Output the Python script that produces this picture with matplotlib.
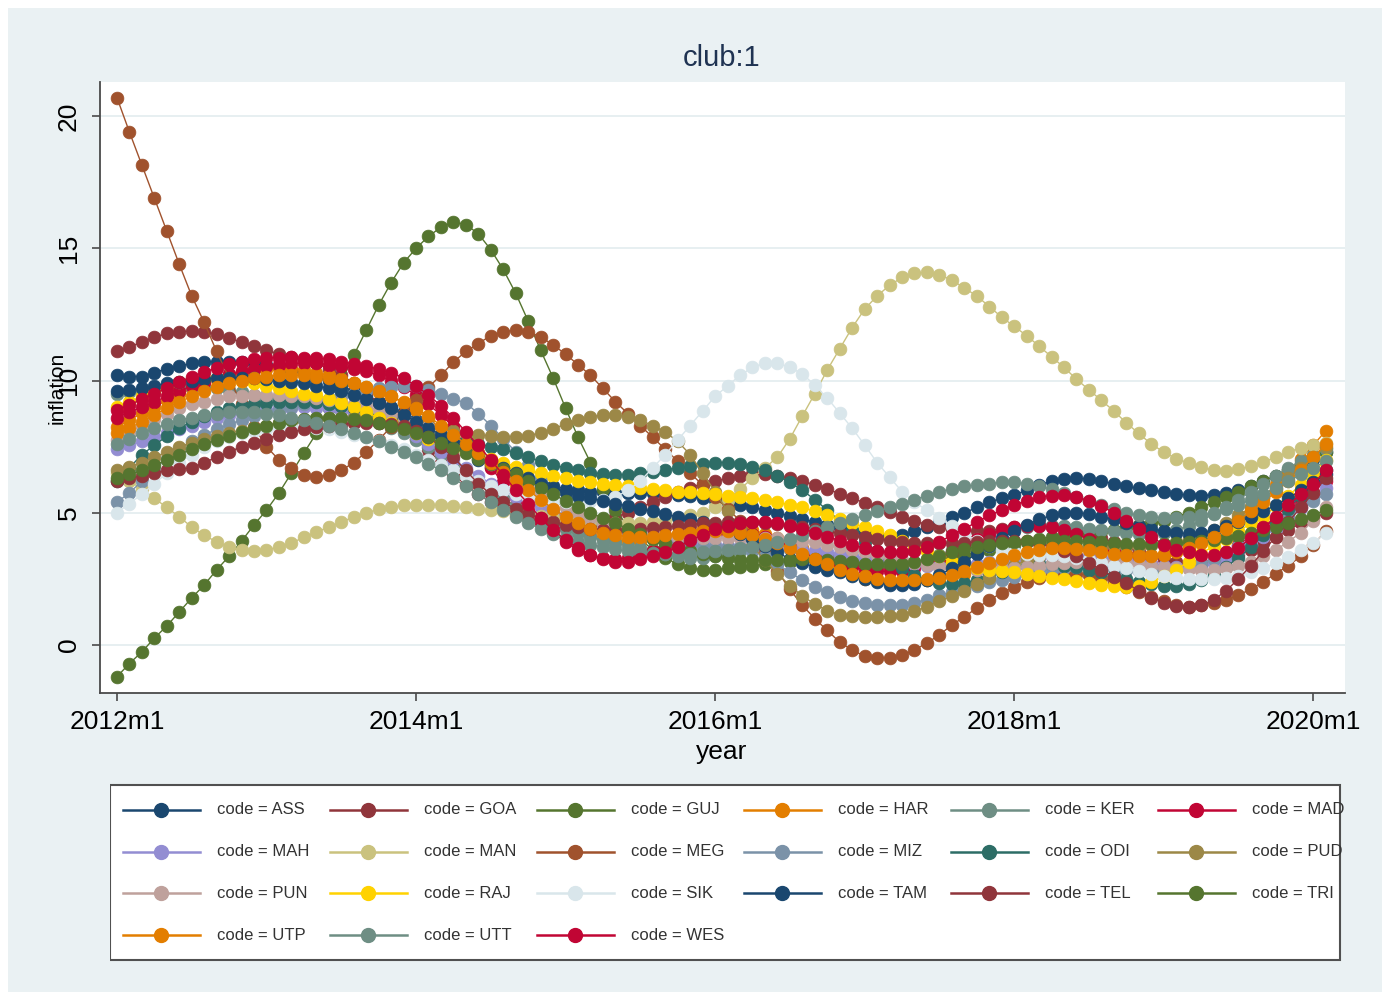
import numpy as np
import matplotlib
matplotlib.use("Agg")
import matplotlib.pyplot as plt
from matplotlib.patches import Rectangle

plt.rcParams['font.family'] = ['Liberation Sans', 'DejaVu Sans']

# monthly smoothed inflation, 2012m1 .. 2020m2 (98 months), one list per state code
ass = [10.2, 10.15, 10.15, 10.3, 10.45, 10.55, 10.65, 10.7, 10.72, 10.72, 10.7, 10.65,
       10.6, 10.5, 10.4, 10.3, 10.15, 10.0, 9.8, 9.6, 9.4, 9.2, 9.0, 8.8,
       8.5, 8.2, 7.9, 7.6, 7.3, 7.0, 6.75, 6.55, 6.35, 6.2, 6.1, 6.0,
       5.9, 5.85, 5.8, 5.78, 5.76, 5.75, 5.75, 5.74, 5.72, 5.68, 5.62, 5.55,
       5.5, 5.4, 5.3, 5.2, 5.1, 5.0, 4.88, 4.76, 4.65, 4.55, 4.45, 4.35,
       4.25, 4.15, 4.1, 4.15, 4.3, 4.46, 4.65, 4.84, 5.0, 5.2, 5.4, 5.55,
       5.67, 5.85, 6.05, 6.2, 6.27, 6.3, 6.28, 6.2, 6.1, 6.0, 5.92, 5.86,
       5.78, 5.7, 5.67, 5.65, 5.67, 5.75, 5.86, 6.0, 6.2, 6.4, 6.6, 6.85,
       7.05, 7.3]
goa = [11.1, 11.27, 11.46, 11.64, 11.78, 11.85, 11.87, 11.85, 11.75, 11.6, 11.45, 11.3,
       11.15, 11.0, 10.9, 10.8, 10.65, 10.45, 10.2, 9.9, 9.55, 9.15, 8.7, 8.25,
       7.8, 7.35, 6.9, 6.45, 6.05, 5.7, 5.4, 5.15, 4.95, 4.8, 4.65, 4.55,
       4.45, 4.45, 4.55, 4.7, 4.84, 5.0, 5.2, 5.4, 5.6, 5.8, 5.95, 6.1,
       6.2, 6.3, 6.38, 6.45, 6.45, 6.4, 6.3, 6.2, 6.05, 5.9, 5.72, 5.55,
       5.38, 5.2, 5.02, 4.85, 4.7, 4.55, 4.45, 4.37, 4.32, 4.3, 4.32, 4.38,
       4.45, 4.5, 4.52, 4.5, 4.45, 4.35, 4.2, 4.05, 3.88, 3.7, 3.52, 3.38,
       3.25, 3.15, 3.1, 3.1, 3.15, 3.25, 3.4, 3.6, 3.85, 4.1, 4.35, 4.6,
       4.8, 5.0]
guj = [-1.2, -0.7, -0.26, 0.26, 0.72, 1.25, 1.78, 2.27, 2.84, 3.36, 3.93, 4.54,
       5.1, 5.75, 6.5, 7.26, 8.0, 8.95, 9.95, 10.95, 11.9, 12.85, 13.7, 14.45,
       15.0, 15.45, 15.8, 16.0, 15.9, 15.55, 14.95, 14.2, 13.3, 12.25, 11.15, 10.1,
       8.96, 7.86, 6.9, 5.9, 5.1, 4.5, 4.0, 3.6, 3.3, 3.05, 2.9, 2.85,
       2.85, 2.9, 2.95, 3.0, 3.05, 3.1, 3.15, 3.2, 3.2, 3.2, 3.15, 3.1,
       3.05, 3.0, 3.0, 3.0, 3.05, 3.1, 3.2, 3.3, 3.4, 3.5, 3.6, 3.7,
       3.8, 3.9, 4.0, 4.1, 4.15, 4.2, 4.25, 4.3, 4.35, 4.45, 4.55, 4.6,
       4.7, 4.85, 5.0, 5.2, 5.4, 5.6, 5.8, 6.0, 6.2, 6.4, 6.6, 6.85,
       7.1, 7.3]
har = [8.25, 8.5, 8.77, 9.0, 9.25, 9.5, 9.7, 9.9, 10.05, 10.2, 10.3, 10.4,
       10.45, 10.47, 10.45, 10.4, 10.3, 10.2, 10.05, 9.9, 9.75, 9.55, 9.4, 9.15,
       8.9, 8.55, 8.2, 7.85, 7.5, 7.15, 6.8, 6.45, 6.1, 5.75, 5.35, 4.95,
       4.6, 4.35, 4.15, 4.05, 3.97, 3.93, 3.95, 4.0, 4.1, 4.2, 4.3, 4.4,
       4.46, 4.5, 4.45, 4.35, 4.2, 4.05, 3.9, 3.65, 3.4, 3.15, 2.85, 2.65,
       2.5, 2.45, 2.4, 2.38, 2.4, 2.45, 2.5, 2.6, 2.7, 2.85, 3.0, 3.1,
       3.25, 3.4, 3.55, 3.65, 3.7, 3.68, 3.65, 3.58, 3.5, 3.45, 3.4, 3.4,
       3.45, 3.55, 3.7, 3.9, 4.15, 4.45, 4.8, 5.2, 5.6, 6.05, 6.55, 7.05,
       7.55, 8.1]
ker = [9.5, 9.55, 9.6, 9.65, 9.7, 9.75, 9.75, 9.75, 9.7, 9.65, 9.55, 9.45,
       9.35, 9.3, 9.25, 9.2, 9.1, 9.0, 8.9, 8.75, 8.6, 8.4, 8.2, 8.0,
       7.75, 7.5, 7.2, 6.9, 6.55, 6.2, 5.85, 5.55, 5.25, 5.0, 4.8, 4.6,
       4.4, 4.25, 4.1, 3.95, 3.85, 3.75, 3.65, 3.55, 3.45, 3.35, 3.3, 3.3,
       3.35, 3.45, 3.55, 3.65, 3.7, 3.68, 3.62, 3.55, 3.48, 3.42, 3.35, 3.3,
       3.2, 3.15, 3.1, 3.1, 3.15, 3.25, 3.4, 3.6, 3.8, 4.0, 4.15, 4.3,
       4.4, 4.45, 4.5, 4.5, 4.5, 4.45, 4.4, 4.35, 4.3, 4.25, 4.2, 4.2,
       4.25, 4.35, 4.5, 4.7, 4.95, 5.2, 5.5, 5.8, 6.1, 6.4, 6.7, 6.95,
       7.2, 7.4]
mad = [8.6, 8.8, 9.0, 9.2, 9.4, 9.6, 9.8, 9.95, 10.1, 10.25, 10.35, 10.45,
       10.55, 10.6, 10.65, 10.65, 10.65, 10.6, 10.55, 10.45, 10.35, 10.2, 10.0, 9.75,
       9.45, 9.1, 8.7, 8.25, 7.75, 7.25, 6.7, 6.15, 5.6, 5.1, 4.65, 4.25,
       3.9, 3.6, 3.4, 3.3, 3.25, 3.3, 3.4, 3.55, 3.7, 3.85, 4.0, 4.1,
       4.2, 4.25, 4.25, 4.2, 4.1, 3.95, 3.75, 3.55, 3.35, 3.2, 3.05, 2.95,
       2.85, 2.8, 2.78, 2.8, 2.9, 3.05, 3.25, 3.5, 3.75, 4.0, 4.2, 4.35,
       4.45, 4.5, 4.5, 4.45, 4.35, 4.2, 4.0, 3.8, 3.6, 3.4, 3.2, 3.05,
       2.95, 2.9, 2.95, 3.05, 3.25, 3.5, 3.8, 4.1, 4.45, 4.75, 5.1, 5.45,
       5.8, 6.2]
mah = [7.4, 7.55, 7.7, 7.85, 8.0, 8.15, 8.3, 8.45, 8.57, 8.68, 8.78, 8.85,
       8.9, 8.95, 8.98, 9.0, 8.98, 8.95, 8.9, 8.8, 8.7, 8.55, 8.35, 8.15,
       7.9, 7.6, 7.3, 7.0, 6.7, 6.4, 6.1, 5.85, 5.6, 5.4, 5.2, 5.05,
       4.9, 4.8, 4.7, 4.6, 4.5, 4.4, 4.3, 4.2, 4.1, 4.0, 3.9, 3.85,
       3.8, 3.75, 3.72, 3.7, 3.68, 3.66, 3.65, 3.6, 3.55, 3.5, 3.45, 3.38,
       3.3, 3.22, 3.15, 3.1, 3.05, 3.0, 3.0, 3.02, 3.05, 3.08, 3.12, 3.16,
       3.2, 3.25, 3.3, 3.35, 3.37, 3.37, 3.35, 3.3, 3.25, 3.2, 3.12, 3.05,
       3.0, 2.95, 2.95, 3.0, 3.1, 3.3, 3.55, 3.8, 4.1, 4.4, 4.8, 5.18,
       5.56, 5.93]
man = [6.5, 6.2, 5.9, 5.55, 5.2, 4.85, 4.46, 4.15, 3.9, 3.7, 3.6, 3.55,
       3.6, 3.7, 3.86, 4.07, 4.27, 4.46, 4.65, 4.84, 5.0, 5.13, 5.2, 5.28,
       5.3, 5.3, 5.28, 5.25, 5.2, 5.15, 5.1, 5.05, 5.0, 4.95, 4.88, 4.8,
       4.75, 4.7, 4.65, 4.6, 4.6, 4.6, 4.6, 4.65, 4.7, 4.8, 4.9, 5.0,
       5.2, 5.5, 5.9, 6.3, 6.7, 7.1, 7.8, 8.66, 9.5, 10.4, 11.2, 12.0,
       12.7, 13.2, 13.6, 13.9, 14.05, 14.1, 14.0, 13.8, 13.5, 13.2, 12.8, 12.4,
       12.05, 11.7, 11.3, 10.9, 10.5, 10.05, 9.65, 9.25, 8.85, 8.4, 8.0, 7.6,
       7.3, 7.05, 6.88, 6.73, 6.6, 6.58, 6.65, 6.77, 6.92, 7.1, 7.3, 7.45,
       7.55, 7.65]
meg = [20.7, 19.4, 18.15, 16.9, 15.65, 14.4, 13.2, 12.2, 11.1, 10.1, 9.1, 8.25,
       7.5, 7.0, 6.7, 6.43, 6.35, 6.43, 6.6, 6.9, 7.3, 7.75, 8.25, 8.75,
       9.25, 9.75, 10.2, 10.7, 11.1, 11.4, 11.7, 11.85, 11.9, 11.85, 11.65, 11.35,
       11.0, 10.6, 10.2, 9.7, 9.2, 8.75, 8.3, 7.85, 7.4, 6.95, 6.5, 6.05,
       5.6, 5.15, 4.7, 4.15, 3.5, 2.8, 2.1, 1.5, 1.0, 0.55, 0.11, -0.19,
       -0.42, -0.49, -0.49, -0.38, -0.19, 0.08, 0.38, 0.76, 1.06, 1.4, 1.7, 1.97,
       2.2, 2.4, 2.55, 2.65, 2.7, 2.7, 2.65, 2.55, 2.4, 2.2, 2.0, 1.8,
       1.65, 1.5, 1.45, 1.5, 1.6, 1.7, 1.9, 2.1, 2.4, 2.7, 3.0, 3.35,
       3.8, 4.3]
miz = [5.4, 5.75, 6.2, 6.65, 7.05, 7.4, 7.7, 7.95, 8.15, 8.35, 8.5, 8.65,
       8.8, 8.9, 9.0, 9.1, 9.2, 9.3, 9.4, 9.5, 9.6, 9.7, 9.75, 9.78,
       9.78, 9.65, 9.5, 9.3, 9.15, 8.75, 8.3, 7.8, 7.3, 6.8, 6.3, 5.9,
       5.5, 5.15, 4.85, 4.6, 4.4, 4.25, 4.1, 4.0, 3.9, 3.8, 3.75, 3.7,
       3.7, 3.7, 3.65, 3.55, 3.35, 3.05, 2.75, 2.45, 2.2, 2.0, 1.82, 1.68,
       1.58, 1.52, 1.5, 1.52, 1.6, 1.72, 1.88, 2.0, 2.12, 2.25, 2.37, 2.47,
       2.58, 2.68, 2.78, 2.85, 2.9, 2.95, 2.95, 2.95, 2.9, 2.85, 2.8, 2.78,
       2.78, 2.82, 2.9, 3.05, 3.25, 3.5, 3.75, 4.0, 4.3, 4.6, 4.9, 5.2,
       5.45, 5.7]
odi = [6.2, 6.7, 7.2, 7.55, 7.9, 8.2, 8.45, 8.65, 8.8, 8.95, 9.05, 9.12,
       9.15, 9.18, 9.2, 9.2, 9.18, 9.12, 9.05, 8.95, 8.8, 8.65, 8.5, 8.35,
       8.2, 8.05, 7.92, 7.8, 7.7, 7.6, 7.5, 7.4, 7.25, 7.1, 6.95, 6.8,
       6.7, 6.6, 6.52, 6.47, 6.44, 6.44, 6.5, 6.55, 6.62, 6.7, 6.78, 6.85,
       6.9, 6.9, 6.85, 6.75, 6.6, 6.4, 6.15, 5.85, 5.5, 5.1, 4.7, 4.3,
       3.9, 3.55, 3.2, 2.9, 2.65, 2.45, 2.35, 2.3, 2.35, 2.45, 2.6, 2.75,
       2.9, 3.0, 3.05, 3.05, 3.0, 2.95, 2.85, 2.75, 2.6, 2.5, 2.4, 2.3,
       2.25, 2.25, 2.3, 2.45, 2.65, 2.95, 3.3, 3.7, 4.15, 4.65, 5.15, 5.65,
       6.15, 6.6]
pud = [6.6, 6.75, 6.9, 7.1, 7.3, 7.5, 7.65, 7.8, 7.9, 8.0, 8.1, 8.2,
       8.3, 8.4, 8.45, 8.5, 8.55, 8.6, 8.6, 8.6, 8.55, 8.5, 8.45, 8.4,
       8.35, 8.3, 8.2, 8.1, 8.0, 7.95, 7.9, 7.88, 7.88, 7.92, 8.02, 8.18,
       8.35, 8.5, 8.62, 8.7, 8.7, 8.62, 8.5, 8.3, 8.05, 7.7, 7.2, 6.5,
       5.8, 5.05, 4.35, 3.75, 3.2, 2.7, 2.25, 1.85, 1.55, 1.3, 1.15, 1.08,
       1.06, 1.06, 1.08, 1.15, 1.28, 1.45, 1.65, 1.85, 2.05, 2.3, 2.55, 2.8,
       3.0, 3.2, 3.35, 3.5, 3.6, 3.68, 3.72, 3.75, 3.75, 3.75, 3.75, 3.78,
       3.82, 3.9, 4.0, 4.15, 4.35, 4.6, 4.9, 5.2, 5.55, 5.9, 6.3, 6.7,
       7.1, 7.5]
pun = [7.75, 8.05, 8.3, 8.55, 8.75, 8.95, 9.1, 9.2, 9.3, 9.4, 9.43, 9.45,
       9.45, 9.45, 9.42, 9.4, 9.35, 9.28, 9.2, 9.1, 9.0, 8.9, 8.75, 8.6,
       8.45, 8.25, 8.0, 7.75, 7.45, 7.15, 6.85, 6.55, 6.25, 5.95, 5.7, 5.45,
       5.2, 5.0, 4.8, 4.6, 4.45, 4.35, 4.25, 4.18, 4.12, 4.08, 4.06, 4.05,
       4.05, 4.05, 4.05, 4.05, 4.05, 4.03, 4.0, 3.95, 3.88, 3.8, 3.7, 3.6,
       3.5, 3.4, 3.3, 3.2, 3.1, 3.02, 2.95, 2.9, 2.87, 2.85, 2.85, 2.87,
       2.9, 2.95, 3.0, 3.05, 3.1, 3.13, 3.15, 3.15, 3.12, 3.1, 3.05, 3.0,
       2.95, 2.9, 2.87, 2.85, 2.85, 2.9, 3.0, 3.15, 3.35, 3.6, 3.9, 4.25,
       4.7, 5.2]
raj = [9.0, 9.2, 9.4, 9.6, 9.8, 9.95, 10.05, 10.1, 10.1, 10.05, 10.0, 9.9,
       9.8, 9.7, 9.6, 9.5, 9.45, 9.3, 9.15, 9.0, 8.8, 8.6, 8.4, 8.2,
       8.0, 7.8, 7.6, 7.45, 7.3, 7.15, 7.05, 6.9, 6.75, 6.62, 6.5, 6.4,
       6.3, 6.22, 6.15, 6.1, 6.05, 6.0, 5.95, 5.9, 5.85, 5.8, 5.78, 5.75,
       5.7, 5.65, 5.6, 5.55, 5.5, 5.4, 5.3, 5.2, 5.05, 4.9, 4.75, 4.6,
       4.45, 4.3, 4.15, 3.95, 3.75, 3.55, 3.35, 3.15, 3.0, 2.9, 2.85, 2.8,
       2.75, 2.7, 2.62, 2.55, 2.48, 2.42, 2.35, 2.28, 2.22, 2.2, 2.25, 2.4,
       2.6, 2.85, 3.15, 3.45, 3.75, 4.0, 4.3, 4.6, 4.85, 5.25, 5.65, 6.05,
       6.5, 7.0]
sik = [5.0, 5.35, 5.7, 6.1, 6.5, 6.9, 7.2, 7.5, 7.7, 7.85, 8.0, 8.1,
       8.15, 8.2, 8.25, 8.25, 8.2, 8.15, 8.05, 7.95, 7.85, 7.7, 7.55, 7.4,
       7.2, 7.0, 6.8, 6.6, 6.4, 6.2, 6.0, 5.85, 5.7, 5.6, 5.5, 5.45,
       5.4, 5.4, 5.45, 5.5, 5.6, 5.85, 6.2, 6.7, 7.2, 7.75, 8.3, 8.85,
       9.4, 9.8, 10.2, 10.5, 10.66, 10.66, 10.5, 10.25, 9.83, 9.34, 8.77, 8.2,
       7.56, 6.9, 6.35, 5.8, 5.4, 5.1, 4.8, 4.5, 4.2, 3.95, 3.75, 3.6,
       3.5, 3.45, 3.4, 3.4, 3.35, 3.3, 3.2, 3.1, 3.0, 2.9, 2.8, 2.7,
       2.6, 2.55, 2.5, 2.48, 2.5, 2.55, 2.62, 2.75, 2.9, 3.1, 3.33, 3.6,
       3.86, 4.23]
tam = [9.6, 9.65, 9.7, 9.8, 9.9, 9.95, 10.0, 10.05, 10.1, 10.1, 10.1, 10.08,
       10.05, 10.0, 9.95, 9.9, 9.8, 9.7, 9.6, 9.45, 9.3, 9.15, 8.95, 8.7,
       8.45, 8.2, 7.95, 7.7, 7.45, 7.2, 6.95, 6.7, 6.5, 6.3, 6.1, 5.95,
       5.8, 5.65, 5.55, 5.45, 5.35, 5.25, 5.15, 5.05, 4.95, 4.85, 4.75, 4.65,
       4.55, 4.4, 4.2, 4.0, 3.75, 3.5, 3.25, 3.1, 2.95, 2.85, 2.75, 2.62,
       2.5, 2.38, 2.28, 2.27, 2.3, 2.45, 2.65, 2.9, 3.15, 3.45, 3.75, 4.05,
       4.3, 4.55, 4.75, 4.9, 5.0, 5.0, 4.95, 4.85, 4.75, 4.6, 4.5, 4.4,
       4.3, 4.25, 4.2, 4.25, 4.35, 4.5, 4.65, 4.85, 5.05, 5.3, 5.55, 5.85,
       6.15, 6.45]
tel = [6.2, 6.3, 6.4, 6.5, 6.6, 6.65, 6.7, 6.9, 7.1, 7.3, 7.5, 7.65,
       7.8, 7.95, 8.05, 8.15, 8.25, 8.3, 8.35, 8.38, 8.4, 8.4, 8.35, 8.3,
       8.1, 7.85, 7.5, 7.1, 6.6, 6.1, 5.7, 5.4, 5.15, 4.95, 4.8, 4.65,
       4.55, 4.45, 4.4, 4.35, 4.35, 4.35, 4.38, 4.42, 4.45, 4.5, 4.55, 4.6,
       4.62, 4.65, 4.65, 4.65, 4.62, 4.58, 4.52, 4.45, 4.38, 4.3, 4.22, 4.15,
       4.08, 4.0, 3.95, 3.9, 3.87, 3.85, 3.85, 3.85, 3.87, 3.9, 3.92, 3.95,
       3.95, 3.92, 3.85, 3.72, 3.55, 3.35, 3.1, 2.84, 2.58, 2.34, 2.05, 1.78,
       1.6, 1.48, 1.44, 1.5, 1.7, 2.05, 2.5, 3.0, 3.55, 4.1, 4.65, 5.2,
       5.75, 6.3]
tri = [6.3, 6.45, 6.6, 6.8, 7.0, 7.2, 7.4, 7.6, 7.75, 7.9, 8.05, 8.2,
       8.3, 8.4, 8.5, 8.55, 8.6, 8.6, 8.6, 8.55, 8.5, 8.4, 8.3, 8.15,
       8.0, 7.85, 7.65, 7.45, 7.25, 7.05, 6.85, 6.65, 6.45, 6.2, 5.95, 5.7,
       5.45, 5.2, 5.0, 4.8, 4.6, 4.4, 4.2, 4.0, 3.85, 3.7, 3.55, 3.45,
       3.35, 3.28, 3.22, 3.2, 3.2, 3.2, 3.22, 3.25, 3.25, 3.22, 3.18, 3.12,
       3.08, 3.05, 3.05, 3.08, 3.15, 3.25, 3.38, 3.5, 3.62, 3.72, 3.8, 3.85,
       3.9, 3.92, 3.95, 3.95, 3.95, 3.93, 3.9, 3.88, 3.85, 3.83, 3.82, 3.82,
       3.83, 3.85, 3.88, 3.92, 3.97, 4.05, 4.12, 4.22, 4.33, 4.46, 4.6, 4.75,
       4.92, 5.1]
utp = [8.0, 8.2, 8.45, 8.7, 8.95, 9.2, 9.4, 9.6, 9.75, 9.9, 10.0, 10.1,
       10.15, 10.2, 10.2, 10.2, 10.15, 10.1, 10.0, 9.9, 9.75, 9.6, 9.4, 9.2,
       8.95, 8.65, 8.3, 7.95, 7.6, 7.25, 6.9, 6.55, 6.2, 5.85, 5.5, 5.15,
       4.85, 4.6, 4.4, 4.25, 4.15, 4.1, 4.1, 4.1, 4.15, 4.2, 4.25, 4.3,
       4.3, 4.3, 4.25, 4.15, 4.0, 3.85, 3.65, 3.45, 3.25, 3.05, 2.85, 2.7,
       2.6, 2.5, 2.45, 2.45, 2.45, 2.5, 2.55, 2.65, 2.8, 2.95, 3.1, 3.25,
       3.4, 3.5, 3.6, 3.65, 3.65, 3.62, 3.58, 3.52, 3.45, 3.4, 3.35, 3.35,
       3.4, 3.5, 3.65, 3.85, 4.1, 4.4, 4.7, 5.05, 5.4, 5.8, 6.2, 6.6,
       7.1, 7.6]
utt = [7.6, 7.8, 8.0, 8.2, 8.35, 8.5, 8.6, 8.7, 8.75, 8.8, 8.8, 8.8,
       8.75, 8.7, 8.6, 8.5, 8.4, 8.3, 8.15, 8.0, 7.85, 7.7, 7.5, 7.3,
       7.1, 6.85, 6.6, 6.3, 6.0, 5.7, 5.4, 5.1, 4.85, 4.6, 4.4, 4.2,
       4.05, 3.9, 3.8, 3.7, 3.62, 3.55, 3.5, 3.48, 3.45, 3.45, 3.45, 3.5,
       3.55, 3.6, 3.65, 3.7, 3.8, 3.9, 4.0, 4.15, 4.3, 4.45, 4.6, 4.75,
       4.9, 5.05, 5.2, 5.35, 5.5, 5.65, 5.8, 5.9, 6.0, 6.05, 6.1, 6.15,
       6.15, 6.1, 6.0, 5.9, 5.75, 5.6, 5.45, 5.3, 5.15, 5.0, 4.9, 4.85,
       4.8, 4.8, 4.85, 4.9, 5.0, 5.15, 5.3, 5.5, 5.7, 5.95, 6.2, 6.45,
       6.7, 6.95]
wes = [8.9, 9.07, 9.3, 9.5, 9.72, 9.95, 10.15, 10.32, 10.48, 10.62, 10.72, 10.8,
       10.85, 10.87, 10.88, 10.87, 10.85, 10.8, 10.72, 10.62, 10.55, 10.42, 10.3, 10.1,
       9.8, 9.45, 9.05, 8.6, 8.05, 7.55, 7.0, 6.43, 5.86, 5.35, 4.8, 4.35,
       3.97, 3.67, 3.4, 3.25, 3.14, 3.14, 3.25, 3.37, 3.5, 3.7, 3.97, 4.16,
       4.4, 4.5, 4.6, 4.65, 4.65, 4.6, 4.5, 4.4, 4.25, 4.1, 3.95, 3.8,
       3.65, 3.55, 3.5, 3.5, 3.55, 3.7, 3.9, 4.15, 4.4, 4.65, 4.9, 5.1,
       5.3, 5.45, 5.6, 5.65, 5.67, 5.6, 5.45, 5.25, 5.0, 4.7, 4.4, 4.1,
       3.8, 3.6, 3.5, 3.42, 3.4, 3.5, 3.67, 4.05, 4.45, 4.85, 5.3, 5.7,
       6.1, 6.6]

codes = ['ASS', 'GOA', 'GUJ', 'HAR', 'KER', 'MAD', 'MAH', 'MAN', 'MEG', 'MIZ', 'ODI',
         'PUD', 'PUN', 'RAJ', 'SIK', 'TAM', 'TEL', 'TRI', 'UTP', 'UTT', 'WES']
series = [ass, goa, guj, har, ker, mad, mah, man, meg, miz, odi,
          pud, pun, raj, sik, tam, tel, tri, utp, utt, wes]
# stata s2color cycle
colors = ['#1a476f', '#90353b', '#55752f', '#e37e00', '#6e8e84', '#c10534',
          '#938dd2', '#cac27e', '#a0522d', '#7b92a8', '#2d6d66', '#9c8847',
          '#bfa19c', '#ffd200', '#d9e6eb',
          '#1a476f', '#90353b', '#55752f', '#e37e00', '#6e8e84', '#c10534']

xtick_pos = [0, 24, 48, 72, 96]
xtick_labels = ['2012m1', '2014m1', '2016m1', '2018m1', '2020m1']
ytick_pos = [0, 5, 10, 15, 20]

W, H = 1390, 1000
fig = plt.figure(figsize=(W / 100, H / 100), dpi=100)
fig.patch.set_facecolor('white')
fig.add_artist(Rectangle((8 / W, 8 / H), (W - 16) / W, (H - 16) / H,
                         transform=fig.transFigure, facecolor='#eaf1f3',
                         edgecolor='none', zorder=0))

ax = fig.add_axes([100 / W, 1 - 693 / H, 1245 / W, 611 / H])
ax.set_facecolor('white')
months = np.arange(len(ass))
for code, col, vals in zip(codes, colors, series):
    ax.plot(months, vals, '-o', color=col, lw=1.0, ms=9.2, mec=col, mew=0.5)

ax.set_xlim(-1.36, 98.55)
ax.set_ylim(-1.815, 21.29)
ax.set_xticks(xtick_pos)
ax.set_xticklabels(xtick_labels)
ax.set_yticks(ytick_pos)
ax.yaxis.grid(True, color='#e3ecef', lw=1.2)
ax.set_axisbelow(True)
for s in ['top', 'right']:
    ax.spines[s].set_visible(False)
for s in ['left', 'bottom']:
    ax.spines[s].set_color('#4a4a4a')
    ax.spines[s].set_linewidth(1.3)
ax.tick_params(axis='x', direction='out', length=6, width=1.2, color='#4a4a4a',
               labelsize=19, pad=6)
ax.tick_params(axis='y', direction='out', length=6, width=1.2, color='#4a4a4a',
               labelsize=19, pad=8, labelrotation=90)
for lbl in ax.get_yticklabels():
    lbl.set_va('center')

fig.text(722 / W, 1 - 58 / H, 'club:1', ha='center', va='center', fontsize=21, color='#1f3352')
fig.text(722 / W, 1 - 752 / H, 'year', ha='center', va='center', fontsize=19)
fig.text(57 / W, 1 - 388 / H, 'inflation', ha='center', va='center', fontsize=15, rotation=90)

# legend box drawn in pixel coordinates
lax = fig.add_axes([110 / W, 1 - 962 / H, 1240 / W, 180 / H])
lax.set_xlim(110, 1350)
lax.set_ylim(962, 782)
lax.axis('off')
lax.add_patch(Rectangle((110, 785), 1230, 175, facecolor='white', edgecolor='#505050', lw=1.5))
for k, (code, col) in enumerate(zip(codes, colors)):
    r, c = divmod(k, 6)
    x0 = 123 + 207 * c
    y = 810 + 41.7 * r
    lax.plot([x0, x0 + 77], [y, y], color=col, lw=1.8)
    lax.plot([x0 + 38], [y], 'o', color=col, ms=10)
    lax.text(x0 + 94, y, f'code = {code}', va='center', ha='left', fontsize=12,
             color='#333333', clip_on=False)

fig.savefig('out.png', dpi=100)
